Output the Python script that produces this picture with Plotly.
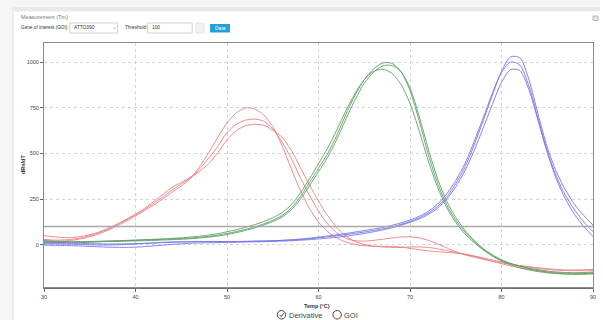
import plotly.graph_objects as go

# Melt-curve derivative data, one reading per degree from 30 to 90 °C
temps = list(range(30, 91))

red_1 = [22, 20, 20, 24, 32, 44, 60, 80, 104, 130, 158, 188, 218, 252, 288, 322, 362, 428, 505, 590,
         668, 722, 750, 745, 712, 648, 545, 420, 300, 200, 125, 72, 38, 15, 2, -5, -8, -9, -10, -12,
         -20, -27, -33, -38, -42, -46, -52, -62, -75, -90, -104, -116, -126, -135, -142, -148, -152,
         -155, -157, -157, -157]
red_2 = [30, 26, 26, 30, 38, 50, 66, 86, 110, 136, 164, 194, 228, 263, 300, 333, 367, 415, 475, 540,
         615, 660, 683, 689, 678, 635, 565, 475, 370, 272, 185, 115, 65, 35, 22, 20, 24, 30, 37, 42,
         44, 38, 24, 5, -17, -38, -55, -68, -80, -90, -99, -107, -114, -120, -126, -131, -135, -138,
         -138, -137, -135]
red_3 = [50, 44, 40, 40, 45, 55, 70, 90, 114, 140, 168, 200, 238, 276, 315, 342, 370, 402, 445, 505,
         575, 625, 652, 660, 655, 628, 590, 520, 425, 330, 240, 160, 95, 48, 18, 2, -8, -12, -14, -15,
         -12, -12, -15, -22, -32, -42, -52, -62, -72, -83, -94, -105, -115, -123, -130, -135, -139,
         -141, -142, -142, -142]

green_1 = [18, 16, 14, 14, 15, 16, 18, 20, 21, 22, 24, 26, 28, 30, 32, 34, 37, 41, 46, 53, 62, 72, 84,
           98, 114, 134, 160, 200, 262, 340, 420, 500, 600, 715, 820, 905, 962, 996, 995, 950, 845,
           680, 495, 340, 220, 135, 70, 18, -25, -60, -85, -103, -117, -128, -137, -144, -149, -152,
           -153, -152, -150]
green_2 = [10, 9, 9, 10, 12, 14, 16, 18, 19, 20, 21, 22, 24, 26, 28, 30, 33, 37, 42, 48, 56, 66, 78,
           92, 108, 127, 152, 190, 248, 322, 400, 480, 578, 690, 795, 885, 945, 980, 983, 950, 860,
           705, 525, 365, 240, 150, 80, 25, -20, -55, -82, -102, -118, -131, -142, -150, -156, -160,
           -162, -162, -160]
green_3 = [22, 20, 18, 17, 17, 18, 19, 20, 22, 24, 26, 28, 30, 32, 35, 38, 42, 47, 53, 61, 71, 82, 95,
           110, 127, 148, 176, 218, 282, 360, 445, 530, 630, 735, 830, 905, 950, 962, 940, 880, 775,
           625, 460, 318, 205, 122, 60, 12, -28, -62, -90, -110, -126, -138, -147, -154, -158, -160,
           -160, -158, -155]

blue_1 = [14, 13, 12, 10, 8, 6, 5, 4, 4, 5, 6, 8, 10, 12, 14, 15, 16, 17, 17, 17, 18, 18, 19, 20, 21,
          22, 24, 26, 29, 33, 38, 44, 50, 56, 63, 70, 78, 87, 98, 112, 128, 148, 174, 210, 262, 335,
          425, 545, 680, 820, 950, 1030, 1025, 905, 715, 535, 400, 300, 220, 160, 108]
blue_2 = [5, 5, 4, 3, 1, 0, -1, -1, 0, 2, 4, 7, 10, 13, 15, 16, 17, 18, 18, 18, 17, 17, 18, 19, 20, 22,
          24, 27, 31, 36, 42, 48, 55, 62, 70, 78, 86, 95, 106, 120, 136, 156, 183, 222, 278, 352, 445,
          565, 695, 830, 945, 1002, 985, 870, 690, 515, 375, 270, 190, 125, 72]
blue_3 = [-2, -3, -4, -5, -7, -9, -11, -13, -14, -14, -13, -10, -6, -2, 2, 5, 8, 10, 11, 12, 13, 14, 15,
          16, 17, 18, 20, 22, 25, 28, 32, 36, 41, 47, 54, 62, 71, 81, 93, 107, 123, 142, 166, 200, 250,
          318, 405, 515, 640, 770, 890, 960, 955, 850, 680, 505, 360, 250, 165, 100, 45]

threshold = 100
y_ticks = [0, 250, 500, 750, 1000]
x_ticks = [30, 40, 50, 60, 70, 80, 90]

series = [
    (red_1, "#ea7e80"), (red_2, "#ea7e80"), (red_3, "#ea7e80"),
    (green_1, "#5c9f62"), (green_2, "#5c9f62"), (green_3, "#5c9f62"),
    (blue_1, "#7474e6"), (blue_2, "#7474e6"), (blue_3, "#7474e6"),
]

W, H = 603, 320
L, R, T, B = 44, 7, 43, 32
PW, PH = W - L - R, H - T - B


def px(x):
    return (x - L) / PW


def py(y):
    return (H - B - y) / PH


fig = go.Figure()
for vals, col in series:
    fig.add_trace(go.Scatter(
        x=temps, y=vals, mode="lines",
        line=dict(color=col, width=0.9, shape="spline", smoothing=0.8),
        hoverinfo="skip", showlegend=False,
    ))

FONT = "Liberation Sans, Arial, sans-serif"
shapes = []
annotations = []

# page chrome around the chart panel
shapes += [
    dict(type="rect", xref="paper", yref="paper", x0=px(0), x1=px(W), y0=py(0), y1=py(7),
         fillcolor="#f5f5f5", line_width=0, layer="below"),
    dict(type="rect", xref="paper", yref="paper", x0=px(0), x1=px(W), y0=py(7), y1=py(11.5),
         fillcolor="#e9e9e9", line_width=0, layer="below"),
    dict(type="rect", xref="paper", yref="paper", x0=px(0), x1=px(12), y0=py(7), y1=py(H),
         fillcolor="#f5f5f5", line_width=0, layer="below"),
    dict(type="rect", xref="paper", yref="paper", x0=px(12), x1=px(13.5), y0=py(11.5), y1=py(H),
         fillcolor="#e6e6e6", line_width=0, layer="below"),
]

# toolbar controls
shapes += [
    dict(type="rect", xref="paper", yref="paper", x0=px(70), x1=px(118), y0=py(23), y1=py(33),
         line=dict(color="#cfcfcf", width=1), fillcolor="white"),
    dict(type="rect", xref="paper", yref="paper", x0=px(148), x1=px(193), y0=py(23), y1=py(33),
         line=dict(color="#cfcfcf", width=1), fillcolor="white"),
    dict(type="rect", xref="paper", yref="paper", x0=px(197), x1=px(205), y0=py(23), y1=py(33),
         line=dict(color="#e2e2e2", width=1), fillcolor="#f3f3f3"),
    dict(type="rect", xref="paper", yref="paper", x0=px(211), x1=px(231), y0=py(24), y1=py(32.5),
         line_width=0, fillcolor="#1ea2dc"),
    dict(type="rect", xref="paper", yref="paper", x0=px(596), x1=px(601), y0=py(16), y1=py(20.5),
         line=dict(color="#bbbbbb", width=1), fillcolor="#e6e6e6"),
]
annotations += [
    dict(text="Measurement (Tm)", x=px(19), y=py(17), xanchor="left", yanchor="middle",
         font=dict(size=5.5, color="#6e7884", family=FONT), showarrow=False, xref="paper", yref="paper"),
    dict(text="Gene of interest (GOI):", x=px(18.5), y=py(28), xanchor="left", yanchor="middle",
         font=dict(size=4.7, color="#333", family=FONT), showarrow=False, xref="paper", yref="paper"),
    dict(text="ATTO390", x=px(72), y=py(28), xanchor="left", yanchor="middle",
         font=dict(size=4.8, color="#333", family=FONT), showarrow=False, xref="paper", yref="paper"),
    dict(text="⌄", x=px(114.5), y=py(27), xanchor="center", yanchor="middle",
         font=dict(size=6, color="#4aa3c8", family=FONT), showarrow=False, xref="paper", yref="paper"),
    dict(text="Threshold:", x=px(123.5), y=py(28), xanchor="left", yanchor="middle",
         font=dict(size=4.7, color="#333", family=FONT), showarrow=False, xref="paper", yref="paper"),
    dict(text=str(threshold), x=px(150.5), y=py(28), xanchor="left", yanchor="middle",
         font=dict(size=4.8, color="#333", family=FONT), showarrow=False, xref="paper", yref="paper"),
    dict(text="Data", x=px(221), y=py(28.2), xanchor="center", yanchor="middle",
         font=dict(size=5, color="white", family=FONT), showarrow=False, xref="paper", yref="paper"),
]

# threshold line
shapes.append(dict(type="line", xref="paper", yref="y", x0=0, x1=1, y0=threshold, y1=threshold,
                   line=dict(color="#a8a8a8", width=1.5)))
# darker bottom axis line
shapes.append(dict(type="line", xref="paper", yref="paper", x0=0, x1=1, y0=0, y1=0,
                   line=dict(color="#666", width=1.5)))

# axis titles
annotations += [
    dict(text="<b>Temp (°C)</b>", x=px(318), y=py(306), xanchor="center", yanchor="middle",
         font=dict(size=5.5, color="#333", family=FONT), showarrow=False, xref="paper", yref="paper"),
    dict(text="<b>dRn/dT</b>", x=px(23), y=py(164), xanchor="center", yanchor="middle", textangle=-90,
         font=dict(size=5.5, color="#333", family=FONT), showarrow=False, xref="paper", yref="paper"),
]

# radio-style legend under the chart
shapes += [
    dict(type="circle", xref="paper", yref="paper", x0=px(278.5), x1=px(287), y0=py(310.5), y1=py(319),
         line=dict(color="#444", width=1)),
    dict(type="path", xref="paper", yref="paper",
         path=f"M {px(280.8)} {py(314.8)} L {px(282.5)} {py(316.6)} L {px(285.2)} {py(312.8)}",
         line=dict(color="#444", width=1)),
    dict(type="circle", xref="paper", yref="paper", x0=px(334.5), x1=px(343), y0=py(310.5), y1=py(319),
         line=dict(color="#444", width=1)),
]
annotations += [
    dict(text="Derivative", x=px(288.5), y=py(315), xanchor="left", yanchor="middle",
         font=dict(size=7.5, color="#444", family=FONT), showarrow=False, xref="paper", yref="paper"),
    dict(text="GOI", x=px(344), y=py(315), xanchor="left", yanchor="middle",
         font=dict(size=7.5, color="#444", family=FONT), showarrow=False, xref="paper", yref="paper"),
]

fig.update_layout(
    width=W, height=H,
    margin=dict(l=L, r=R, t=T, b=B, pad=0),
    paper_bgcolor="white", plot_bgcolor="white",
    shapes=shapes, annotations=annotations,
    xaxis=dict(range=[30, 90], tickvals=x_ticks, ticks="outside", ticklen=3, tickcolor="#666",
               tickfont=dict(size=5.5, color="#444", family=FONT),
               showgrid=True, gridcolor="#d4d4d4", griddash="dot", gridwidth=1,
               showline=True, linecolor="#8a8a8a", linewidth=1, mirror=True, zeroline=False),
    yaxis=dict(range=[-237, 1106], tickvals=y_ticks, ticks="outside", ticklen=3, tickcolor="#666",
               tickfont=dict(size=5.5, color="#444", family=FONT),
               showgrid=True, gridcolor="#d4d4d4", griddash="dot", gridwidth=1,
               showline=True, linecolor="#8a8a8a", linewidth=1, mirror=True, zeroline=False),
)

fig.write_html("out.html")
